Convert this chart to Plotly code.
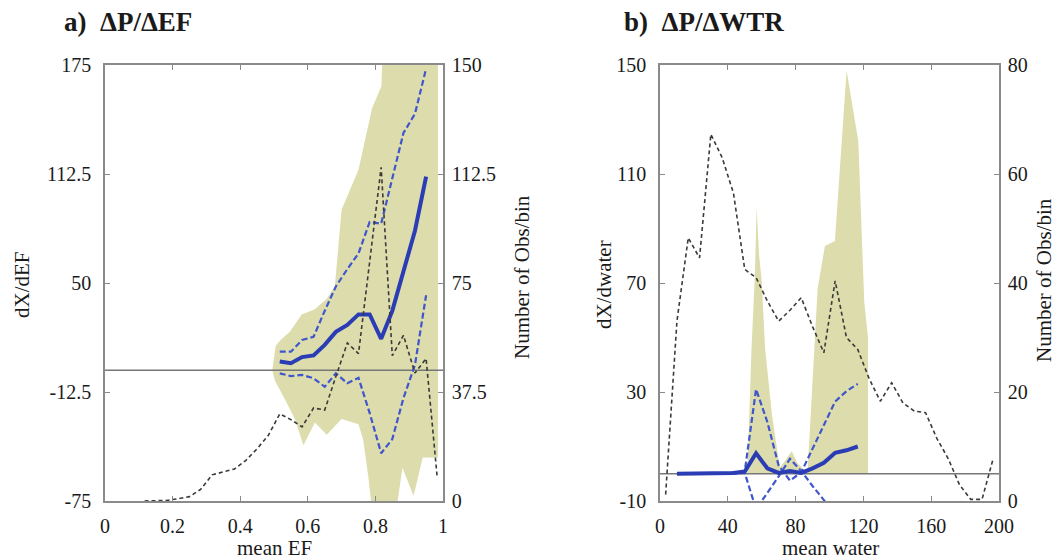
import plotly.graph_objects as go

# ---------------- Panel a: dP/dEF ----------------
ef_count_x = [0.117, 0.15, 0.183, 0.217, 0.25, 0.283, 0.317, 0.35, 0.383, 0.417, 0.45, 0.483,
              0.517, 0.55, 0.583, 0.617, 0.65, 0.683, 0.717, 0.75, 0.783, 0.817, 0.85, 0.883,
              0.917, 0.95, 0.983]
ef_count = [0, 0, 0.2, 0.8, 1.5, 4, 9, 10, 11, 14, 18, 22.5,
            30, 28, 25.5, 32, 31.3, 42.8, 54.4, 50.7, 82, 114.8, 50, 57,
            44, 49, 8]

ef_x = [0.517, 0.55, 0.583, 0.617, 0.65, 0.683, 0.717, 0.75, 0.783, 0.817, 0.85, 0.883, 0.917, 0.95]
ef_mean = [5, 4, 7.5, 8.5, 14.5, 22, 26, 32, 32, 18, 34, 57, 80, 111]
ef_upper = [10.6, 10.6, 17.3, 19.2, 34, 48, 58, 67, 85, 84, 110, 136, 147, 173]
ef_lower = [-1.8, -3.4, -2.7, -4.6, -9.5, -1.8, -7.5, -4.4, -24.5, -47.6, -39.5, -16, 3, 43]

ef_shade_up_x = [0.495, 0.505, 0.518, 0.547, 0.582, 0.621, 0.656, 0.68, 0.70, 0.75, 0.79, 0.818, 0.824, 0.985]
ef_shade_up_y = [0, 14, 17, 22, 32, 35, 41, 48, 92, 115, 150, 163, 200, 200]
ef_shade_lo_x = [0.985, 0.94, 0.913, 0.88, 0.862, 0.79, 0.779, 0.764, 0.75, 0.70, 0.656, 0.621, 0.587, 0.562, 0.533, 0.503, 0.495]
ef_shade_lo_y = [-50, -50, -72, -56, -80, -80, -61, -40, -31, -28, -37, -30, -43, -28, -17, -6, 0]

ef_range = [0, 1]
ef_xticks = [0, 0.2, 0.4, 0.6, 0.8, 1]
ef_xticklabels = ["0", "0.2", "0.4", "0.6", "0.8", "1"]
ef_yrange = [-75, 175]
ef_yticks = [-75, -12.5, 50, 112.5, 175]
ef_yticklabels = ["-75", "-12.5", "50", "112.5", "175"]
ef_y2range = [0, 150]
ef_y2ticks = [0, 37.5, 75, 112.5, 150]
ef_y2ticklabels = ["0", "37.5", "75", "112.5", "150"]

# ---------------- Panel b: dP/dWTR ----------------
w_count_x = [3.33, 10, 16.67, 23.33, 30, 36.67, 43.33, 50, 56.67, 63.33, 70, 76.67, 83.33, 90, 96.67,
             103.33, 110, 116.67, 123.33, 130, 136.67, 143.33, 150, 156.67, 163.33, 170, 176.67,
             183.33, 190, 196.67]
w_count = [1.2, 33, 48.3, 44.6, 67.3, 63, 56.5, 42.5, 41, 36.7, 33, 35, 37.3, 32, 27.2,
           40.4, 30, 27.8, 22.5, 18.3, 21.7, 18, 16.5, 16.2, 11.5, 7.8, 3,
           0.3, 0.3, 7.9]

w_x = [10, 16.67, 23.33, 30, 36.67, 43.33, 50, 56.67, 63.33, 70, 76.67, 83.33, 90, 96.67, 103.33, 110, 116.67]
w_mean = [0, 0, 0, 0, 0, 0.3, 0.8, 7.5, 2, 0.3, 1, 0.3, 2, 4, 7.7, 8.6, 10]
w_upper = [0, 0, 0, 0, 0, 0.5, 0.8, 31, 19, 3, -2.5, 0.5, 9, 18, 26.5, 30.3, 33]
w_lower = [0, 0, 0, 0, 0, 0.2, 0.3, -13, -7, -1, 5.5, 1, -4.5, -9.5, -15, -20, -25]

w_shade_x = [51.5, 54, 56, 57, 58.5, 60, 62, 66, 70, 71, 74, 77.7, 81, 84, 87, 93, 97.3, 103.2,
             110.1, 117, 120.5, 122.7, 122.7]
w_shade_y = [0, 46, 73, 97.6, 80, 70.7, 46, 22, 5, 2.5, 5, 8.3, 4, 2, 0, 68, 83.6, 85.4,
             148, 122, 63, 50, 0]

w_range = [0, 200]
w_xticks = [0, 40, 80, 120, 160, 200]
w_xticklabels = ["0", "40", "80", "120", "160", "200"]
w_yrange = [-10, 150]
w_yticks = [-10, 30, 70, 110, 150]
w_yticklabels = ["-10", "30", "70", "110", "150"]
w_y2range = [0, 80]
w_y2ticks = [0, 20, 40, 60, 80]
w_y2ticklabels = ["0", "20", "40", "60", "80"]

# ---------------- styles ----------------
SHADE = "rgb(220,220,172)"
BLUE = "#2b3db5"
BLUE_D = "#3f56cc"
BLACK_D = "#3a3a3a"
ZERO = "#777777"
FRAME = "#8a8a8a"
FONT = "Liberation Serif"

W, H, OFF = 1060, 560, 8  # page body has an 8px margin


def fx(px):
    return (px - OFF) / W


def fy(py):
    return 1 - (py - OFF) / H


fig = go.Figure()


def panel(xa, ya, ya2, sx, sy, cx, cy, mx, mean, up, lo, rng):
    fig.add_trace(go.Scatter(x=sx, y=sy, fill="toself", fillcolor=SHADE, mode="lines",
                             line=dict(width=0, color=SHADE), xaxis=xa, yaxis=ya,
                             hoverinfo="skip", showlegend=False))
    fig.add_trace(go.Scatter(x=rng, y=[0, 0], mode="lines", line=dict(color=ZERO, width=1.6),
                             xaxis=xa, yaxis=ya, showlegend=False, hoverinfo="skip"))
    fig.add_trace(go.Scatter(x=cx, y=cy, mode="lines", line=dict(color=BLACK_D, width=1.6, dash="4px,3px"),
                             xaxis=xa, yaxis=ya2, showlegend=False))
    fig.add_trace(go.Scatter(x=mx, y=up, mode="lines", line=dict(color=BLUE_D, width=2.2, dash="6px,3px"),
                             xaxis=xa, yaxis=ya, showlegend=False))
    fig.add_trace(go.Scatter(x=mx, y=lo, mode="lines", line=dict(color=BLUE_D, width=2.2, dash="6px,3px"),
                             xaxis=xa, yaxis=ya, showlegend=False))
    fig.add_trace(go.Scatter(x=mx, y=mean, mode="lines", line=dict(color=BLUE, width=4),
                             xaxis=xa, yaxis=ya, showlegend=False))


panel("x", "y", "y2", ef_shade_up_x + ef_shade_lo_x, ef_shade_up_y + ef_shade_lo_y,
      ef_count_x, ef_count, ef_x, ef_mean, ef_upper, ef_lower, ef_range)
panel("x2", "y3", "y4", w_shade_x, w_shade_y,
      w_count_x, w_count, w_x, w_mean, w_upper, w_lower, w_range)

tickfont = dict(family=FONT, size=20, color="#1a1a1a")
common = dict(showline=True, linecolor=FRAME, linewidth=1.5, ticks="inside", ticklen=5,
              tickcolor=FRAME, tickwidth=1.2, showgrid=False, zeroline=False, tickfont=tickfont,
              automargin=False)

dom_a = [fx(105), fx(443)]
dom_b = [fx(660), fx(999)]
dom_y = [fy(501), fy(65)]

fig.update_layout(
    width=W, height=H, margin=dict(l=0, r=0, t=0, b=0, pad=0),
    plot_bgcolor="white", paper_bgcolor="white", showlegend=False,
    xaxis=dict(domain=dom_a, range=ef_range, tickvals=ef_xticks, ticktext=ef_xticklabels,
               anchor="y", mirror="ticks", ticklabelstandoff=6, **common),
    yaxis=dict(domain=dom_y, range=ef_yrange, tickvals=ef_yticks, ticktext=ef_yticklabels,
               anchor="x", mirror=True, ticklabelstandoff=8, **common),
    yaxis2=dict(range=ef_y2range, tickvals=ef_y2ticks, ticktext=ef_y2ticklabels,
                overlaying="y", side="right", anchor="x", ticklabelstandoff=3, **common),
    xaxis2=dict(domain=dom_b, range=w_range, tickvals=w_xticks, ticktext=w_xticklabels,
                anchor="y3", mirror="ticks", ticklabelstandoff=6, **common),
    yaxis3=dict(domain=dom_y, range=w_yrange, tickvals=w_yticks, ticktext=w_yticklabels,
                anchor="x2", mirror=True, ticklabelstandoff=8, **common),
    yaxis4=dict(range=w_y2range, tickvals=w_y2ticks, ticktext=w_y2ticklabels,
                overlaying="y3", side="right", anchor="x2", ticklabelstandoff=3, **common),
)

labfont = dict(family=FONT, size=21, color="#1a1a1a")
titfont = dict(family=FONT, size=27, color="#1a1a1a")
ann = [
    dict(text="<b>a)  ΔP/ΔEF</b>", x=fx(62), y=fy(22), xanchor="left", yanchor="middle", font=titfont),
    dict(text="<b>b)  ΔP/ΔWTR</b>", x=fx(622), y=fy(22), xanchor="left", yanchor="middle", font=titfont),
    dict(text="dX/dEF", x=fx(22), y=fy(285), textangle=-90, xanchor="center", yanchor="middle", font=labfont),
    dict(text="Number of Obs/bin", x=fx(522), y=fy(277), textangle=-90, xanchor="center", yanchor="middle", font=labfont),
    dict(text="mean EF", x=fx(274), y=fy(548), xanchor="center", yanchor="middle", font=labfont),
    dict(text="dX/dwater", x=fx(604), y=fy(285), textangle=-90, xanchor="center", yanchor="middle", font=labfont),
    dict(text="Number of Obs/bin", x=fx(1044), y=fy(280), textangle=-90, xanchor="center", yanchor="middle", font=labfont),
    dict(text="mean water", x=fx(830), y=fy(548), xanchor="center", yanchor="middle", font=labfont),
]
for a in ann:
    fig.add_annotation(xref="paper", yref="paper", showarrow=False, **a)

fig.write_html("out.html")
